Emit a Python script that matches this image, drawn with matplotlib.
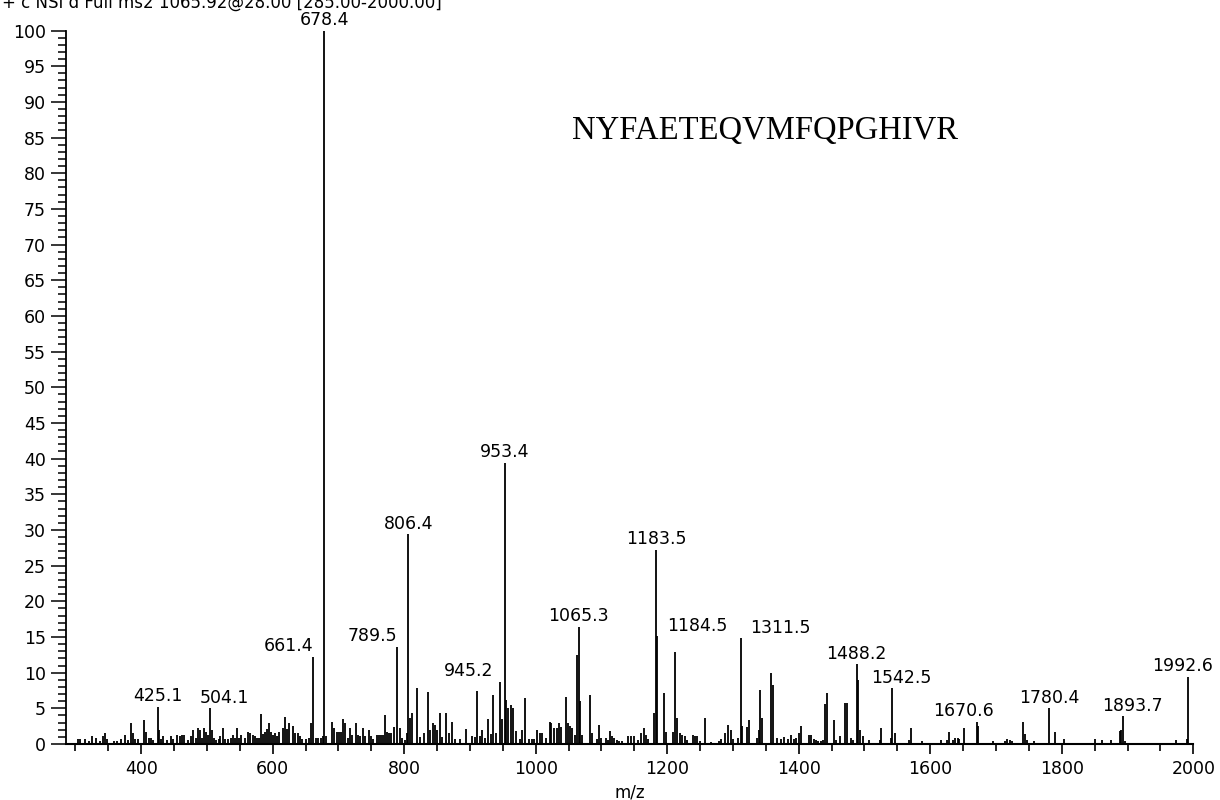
import matplotlib
matplotlib.use('Agg')
import matplotlib.pyplot as plt
from matplotlib.ticker import MultipleLocator

# MS/MS spectrum, m/z and relative abundance
header = '+ c NSI d Full ms2 1065.92@28.00 [285.00-2000.00]'
peptide = 'NYFAETEQVMFQPGHIVR'

# annotated peaks
label_mz = [425.1, 504.1, 661.4, 678.4, 789.5, 806.4, 945.2, 953.4, 1065.3,
            1183.5, 1184.5, 1311.5, 1488.2, 1542.5, 1670.6, 1780.4, 1893.7, 1992.6]
label_int = [5.2, 5.0, 12.2, 100.0, 13.6, 29.4, 8.7, 39.4, 16.4,
             27.2, 15.1, 14.8, 11.2, 7.8, 3.1, 5.0, 3.9, 9.4]

# the rest of the peaks (not annotated)
other_mz = [304.2, 307.8, 315, 320, 326, 332, 337, 342, 345.5, 348.5, 359, 363, 369, 376, 380,
            384, 387, 390, 395, 404.6, 407.6, 412.7, 414.8, 418.8, 427, 430, 434, 439, 445, 449,
            454.5, 458.6, 462.7, 465.7, 471, 476, 479, 483, 487, 490, 493, 496, 499, 501, 507.5,
            510.5, 514.6, 517.7, 520.7, 523.8, 527.9, 532, 536, 539, 542, 546, 549, 552, 558,
            562.5, 565.5, 569.6, 573.7, 576.8, 579.8, 581.8, 585, 588, 591, 594, 597, 600, 603,
            606, 610, 615.5, 618.5, 621.6, 624.6, 630.7, 633.8, 637.9, 642, 645, 651, 655, 659,
            665.4, 669.5, 673.5, 676.6, 681.6, 689.8, 693, 698, 701, 704, 707, 710, 714, 718,
            721.4, 726.5, 729.6, 732.6, 737.7, 740.8, 745.9, 749, 753, 758, 761, 765, 768, 771,
            774, 777.5, 780.5, 784.6, 793.7, 796.8, 800.9, 804,
            808.5, 811.5, 819.5, 824.5, 829.5, 836, 840, 844, 847, 850, 855, 858, 864, 868, 872,
            878, 884.5, 894.5, 903, 908, 911, 915, 919, 923, 927, 932, 935, 939, 948.5, 955, 958,
            962.5, 966, 970, 976, 979, 983, 990, 994, 998, 1002, 1006, 1009, 1015.5, 1021, 1024,
            1028, 1032, 1036, 1039, 1046.5, 1049.5, 1052.5, 1055.5, 1059.5, 1062.6, 1067.7,
            1070, 1082, 1085, 1093, 1096.4, 1099.4, 1106.6, 1109.6, 1112.7, 1115.7, 1118.8,
            1122.9, 1127, 1132, 1140, 1144.3, 1149.4, 1155.5, 1159.6, 1164.6, 1167.7, 1170.8,
            1179.5, 1194.4, 1197.4, 1208.5, 1211.6, 1214.6, 1218.7, 1222.7, 1226.8, 1230.8,
            1238.9, 1243, 1246, 1250.1, 1258.2, 1263.3, 1267.3, 1278.5, 1282.5, 1288.6, 1292.7,
            1296.7, 1300.8, 1307.9, 1313.9, 1322, 1325.1, 1336.2, 1339.3, 1341.3, 1344.4,
            1357.5, 1360.5, 1367.6, 1372.7, 1377.8, 1383.8, 1387.9, 1393, 1396, 1401.1, 1404.1,
            1416.3, 1419.3, 1423.4, 1427, 1430, 1434, 1437.5, 1440.6, 1443.6, 1446.7, 1453.7,
            1456.8, 1462.9, 1471, 1474, 1479, 1482, 1490.6, 1493.3, 1498.3, 1507.5, 1523.7,
            1525.7, 1540, 1546, 1567, 1570.3, 1584.5, 1587.5, 1609, 1617, 1625, 1628, 1635,
            1638, 1642, 1644, 1652, 1672.6, 1695, 1714, 1717, 1722, 1725, 1741.6, 1744.6,
            1747.6, 1753.7, 1758, 1784, 1789, 1803, 1850, 1861, 1875, 1888.5, 1890.5, 1896.6,
            1954, 1957, 1961, 1973.6, 1977.6, 1991]
other_int = [0.75, 0.75, 0.75, 0.4, 1.1, 0.9, 0.4, 1.1, 1.5, 0.75, 0.4, 0.4, 0.75, 1.3, 0.55,
             2.9, 1.5, 0.65, 0.75, 3.3, 1.7, 0.9, 0.9, 0.55, 1.9, 0.75, 1.1, 0.55, 1.1, 0.75,
             1.3, 1.1, 1.3, 1.3, 0.55, 1.1, 1.9, 0.9, 2.2, 1.9, 0.9, 2.2, 1.7, 1.3, 1.9,
             0.9, 0.55, 0.75, 1.1, 2.2, 0.75, 0.75, 0.9, 1.3, 0.9, 2.2, 0.9, 1.3, 0.9,
             1.7, 1.5, 1.3, 1.1, 0.9, 0.9, 4.2, 1.4, 1.7, 2.1, 2.9, 1.7, 1.3, 1.5,
             1.1, 1.7, 2.2, 3.8, 2.1, 2.9, 2.5, 1.5, 1.5, 1.1, 0.65, 0.75, 0.9, 2.9,
             0.9, 0.9, 0.9, 1.1, 1.1, 3.1, 2.3, 1.7, 1.7, 1.7, 3.5, 2.9, 0.9, 2.3,
             1.3, 2.9, 1.3, 1.1, 2.3, 1.1, 1.9, 1.1, 0.65, 1.3, 1.3, 1.3, 1.3, 4.0,
             1.7, 1.5, 1.5, 2.4, 2.2, 0.9, 0.55, 1.5,
             3.6, 4.4, 7.9, 1.0, 1.5, 7.3, 2.0, 2.9, 2.6, 2.0, 4.3, 1.0, 4.4, 1.5, 3.1,
             0.65, 0.65, 2.1, 1.1, 1.0, 7.4, 1.1, 1.9, 0.85, 3.5, 1.4, 6.8, 1.5, 3.5, 6.1, 5.0,
             5.4, 5.1, 1.8, 0.65, 2.0, 6.5, 0.65, 0.65, 0.65, 2.0, 1.5, 1.6, 0.85, 3.1, 2.9,
             2.2, 2.2, 2.9, 2.4, 6.6, 2.9, 2.5, 2.3, 1.3, 12.5, 6.0,
             1.3, 6.8, 1.5, 0.75, 2.7, 0.9, 0.9, 0.55, 1.8, 1.1, 0.9,
             0.55, 0.4, 0.4, 1.1, 1.1, 1.1, 0.55, 1.5, 2.3, 1.3, 0.75,
             4.3, 7.1, 1.7, 1.7, 12.9, 3.7, 1.6, 1.3, 1.1, 0.55,
             1.3, 1.1, 1.1, 0.4, 3.7, 0.2, 0.3, 0.4, 0.75, 1.5, 2.7,
             2.0, 0.75, 0.85, 2.5, 2.4, 3.4, 0.9, 1.9, 7.5, 3.6,
             10.0, 8.2, 0.85, 0.65, 1.0, 0.65, 1.2, 0.65, 0.9, 1.6, 2.5,
             1.3, 1.3, 0.75, 0.55, 0.4, 0.4, 0.55, 5.6, 7.1, 0.2, 3.3,
             0.55, 1.1, 5.8, 5.8, 0.9, 0.55, 9.0, 2.0, 1.1, 0.55, 0.55,
             2.3, 0.9, 1.5, 0.55, 2.3, 0.2, 0.4, 0.2, 0.55, 0.55, 1.7, 0.55,
             0.85, 0.9, 0.75, 2.3, 2.5, 0.4, 0.4, 0.75, 0.55, 0.4, 3.1, 1.4,
             0.55, 0.2, 0.4, 0.2, 1.7, 0.75, 0.75, 0.55, 0.55, 1.8, 2.0, 0.4,
             0.2, 0.2, 0.2, 0.55, 0.2, 0.75]

# label placement: (horizontal alignment, x shift in px)
label_style = {661.4: ('right', 0), 789.5: ('right', 0), 945.2: ('right', -6),
               1184.5: ('left', 10), 1311.5: ('left', 10), 504.1: ('center', 15),
               1542.5: ('center', 9), 1670.6: ('center', -13), 1893.7: ('center', 9),
               1992.6: ('center', -6)}

fig = plt.figure(figsize=(12.2, 8.0), dpi=100)
ax = fig.add_axes([65.5 / 1220, 1 - 744 / 800, (1193.3 - 65.5) / 1220, (744 - 30.5) / 800])

ax.vlines(other_mz, 0, other_int, color='black', lw=1.3)
ax.vlines(label_mz, 0, label_int, color='black', lw=1.3)

px = 72.0 / fig.dpi
for mz, inten in zip(label_mz, label_int):
    ha, dx = label_style.get(mz, ('center', 0))
    ax.annotate('%.1f' % mz, xy=(mz, inten), xytext=(dx * px, 4), textcoords='offset points',
                ha=ha, va='baseline', fontsize=12.5)

ax.set_xlim(285, 2000)
ax.set_ylim(0, 100)
ax.spines['top'].set_visible(False)
ax.spines['right'].set_visible(False)
ax.spines['left'].set_linewidth(1.3)
ax.spines['bottom'].set_linewidth(1.5)

ax.xaxis.set_minor_locator(MultipleLocator(50))
ax.yaxis.set_major_locator(MultipleLocator(5))
ax.yaxis.set_minor_locator(MultipleLocator(1))
ax.set_xticks(range(400, 2001, 200))
ax.tick_params(axis='x', which='major', length=7.5, width=1.2, pad=4, labelsize=12.5, direction='out')
ax.tick_params(axis='x', which='minor', length=5, width=1.2, direction='out')
ax.tick_params(axis='y', which='major', length=11, width=1.1, pad=3, labelsize=12.5, direction='out')
ax.tick_params(axis='y', which='minor', length=5.5, width=1.1, direction='out')

ax.set_xlabel('m/z', fontsize=12, labelpad=4)

ax.text(0.4495, 0.848, peptide, transform=ax.transAxes, fontsize=23.5,
        family='Liberation Serif', ha='left', va='baseline')
fig.text(2 / 1220, 1 - 8 / 800, header, fontsize=12, ha='left', va='baseline')

fig.savefig('out.png', dpi=100)
